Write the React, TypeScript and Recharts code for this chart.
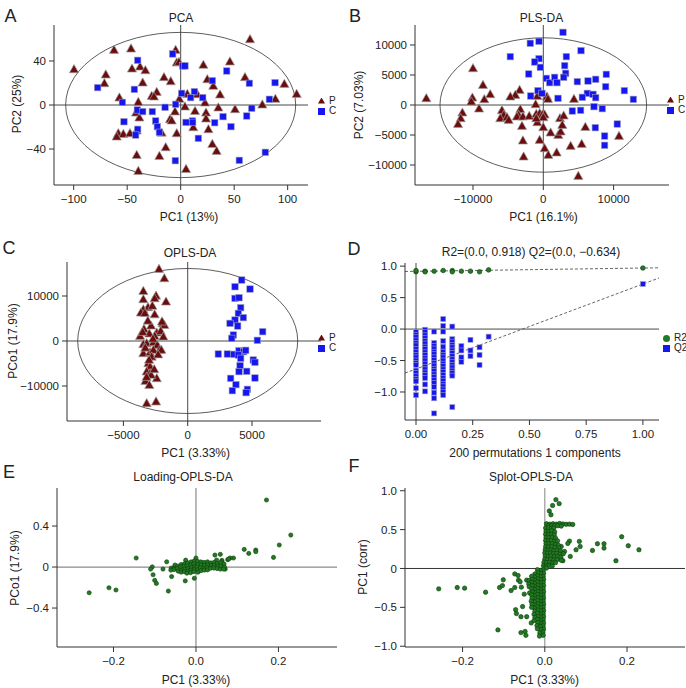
import React from "react"
import { ScatterChart, Scatter, XAxis, YAxis, ReferenceLine, ReferenceArea, Legend } from "recharts"

const FONT = '"Liberation Sans", Arial, Helvetica, sans-serif'
const RED = "#6b0d0d"
const BLUE = "#1616ee"
const GREEN = "#237a23"
const GREEN_EDGE = "#0b3d0b"
const INK = "#222"

// ---- A: PCA ----
const A_P = [[-99.7,32.4],[-62.3,50],[-46.4,51.2],[-4.7,50],[64.8,59.7],[-70,27.6],[-71.3,19.7],[-45.5,33],[-38,34.8],[-33,31.5],[-3.7,38.5],[-1.6,39],[21.2,36.4],[46,39.4],[-35.5,20.3],[-15.6,25.2],[-9.3,21.5],[24.9,23.3],[30.5,17.3],[60.1,25.2],[96.9,19.1],[108.4,10],[-57.3,6.7],[-22.4,11.8],[-27.1,8.2],[-25,7.6],[-1.2,5.5],[6.2,10],[15.6,9.7],[22.7,2.1],[36.8,9.4],[88.5,5.5],[76.3,0.3],[-39.6,2.7],[-41.7,-7],[-38.6,-11.5],[4,-1.5],[-5.3,-6],[13.4,-5.5],[23.7,-7],[35.2,-2.4],[50.8,-3.9],[-10,-13],[-8.4,-14.2],[23.7,-12.4],[11.8,-20.3],[25.9,-22.1],[-58.3,-25.8],[-53.6,-26.4],[-47.4,-25.8],[-59.8,-28.8],[-41.1,-23.3],[-17.8,-25.2],[-3.7,-25.8],[29.6,-35.5],[33.6,-41.8],[-14,-38.5],[-41.1,-45.5],[-19.9,-46.4],[5,-58.2],[-39.6,-60]]
const A_C = [[-7.5,46.4],[-40.2,40.6],[1.9,35.5],[4,35.5],[43,30.9],[29.6,22.1],[-77.6,15.8],[-43.3,14.2],[64.2,19.7],[88.2,20.3],[0.9,10.6],[12.8,12.1],[9.3,6.7],[20.6,6.7],[82.9,5.2],[-54.5,2.4],[-14.6,-2.1],[-4.7,0.6],[66.4,-3],[-40.5,-4.5],[-35.5,-6],[-26.5,-6],[-53,-15.2],[-23.4,-14.5],[5,-15.8],[11,-14.5],[11.2,-15.8],[31.8,-16.1],[39.6,-10.6],[61.7,-10],[-21.8,-19.7],[-19.9,-24.8],[-40.2,-22.1],[-42.1,-27.3],[16.5,-30.3],[47,-19.7],[-5,-50.6],[54.8,-50.3],[79.1,-43]]
const A_ELLIPSE = [107.5, 66]

// ---- B: PLS-DA ----
const B_P = [[-16640,1110],[-10000,6110],[-8580,3330],[-10090,1220],[-10240,560],[-8390,940],[-7550,1780],[-9140,-610],[-11510,-1280],[-11750,-2220],[-12130,-3170],[-3370,2500],[-3980,1670],[-4690,1390],[-5880,-890],[-5640,-1670],[-6120,-2220],[-5170,-2060],[-4930,-2500],[-3270,-720],[-3510,-1670],[-3750,-1940],[-2900,-1940],[-2000,-1830],[-3030,-3500],[-850,1500],[520,1390],[660,1000],[-1090,110],[-1000,-1500],[-520,-1390],[-140,-1610],[190,-1610],[-850,-2890],[0,-2060],[-1000,-2220],[2370,-2220],[2900,-1780],[0,-3720],[1040,-4610],[2130,-5000],[2470,-4440],[2700,-3330],[-520,-5830],[-2900,-5940],[190,-7220],[710,-8330],[1900,-7940],[3890,-6830],[5460,-6500],[5980,-3670],[10770,-5170],[4360,1000],[-2800,-8610],[4980,-11830]]
const B_C = [[2802,12110],[-1850,10280],[-612,10610],[5363,9060],[-4694,8060],[-612,7720],[-1228,7170],[-422,6280],[3275,8060],[3040,6560],[-2080,5170],[3180,5280],[427,4440],[900,3720],[1610,4610],[1940,3720],[2900,4610],[4840,3890],[6360,4000],[7450,4280],[8960,5110],[8870,3050],[11530,2390],[12810,940],[6260,1940],[7070,1780],[7450,1220],[5550,1280],[-755,2390],[-190,1940],[-1800,1500],[2090,1110],[4130,-1000],[5310,-890],[7210,-280],[8390,-610],[7400,-3780],[8720,-5170],[8720,-6720],[10520,-3170]]
const B_ELLIPSE = [14700, 11200]

// ---- C: OPLS-DA ----
const C_P = [[-2232,16000],[-1818,13920],[-3450,11100],[-3450,9260],[-2462,10060],[-2570,9470],[-1686,8730],[-3085,7480],[-3450,7000],[-3640,6290],[-3330,6200],[-2570,5900],[-3400,2660],[-2850,3400],[-1946,3925],[-1818,3550],[-3700,1110],[-2985,1630],[-2406,1850],[-2100,2220],[-2570,1110],[-1893,960],[-3450,-740],[-3190,-520],[-2670,-300],[-2360,-890],[-2200,-2000],[-3450,-2740],[-2930,-2520],[-2050,-1990],[-2670,-1990],[-3060,-4960],[-2930,-5700],[-3190,-6810],[-2930,-7180],[-2406,-8300],[-3290,-8890],[-2850,-7550],[-2985,-9780],[-3190,-13850],[-2460,-13480],[-3100,4500],[-2700,500],[-3300,-1500],[-2800,-3500],[-3000,-4200],[-2600,-6300],[-3200,-8000],[-2750,7800],[-3500,2000],[-2300,-3000],[-2000,4300]]
const C_C = [[4199,13550],[3678,12060],[4844,11550],[3678,9470],[3990,9620],[4120,7400],[3937,6140],[4326,5190],[3678,4660],[3290,3920],[3885,3330],[3550,1330],[3420,590],[5830,2070],[5414,150],[2380,-2890],[3083,-2890],[3575,-2960],[3990,-2150],[4350,-2370],[4510,-2070],[3937,-3110],[4120,-3850],[5100,-4220],[5230,-4740],[4070,-5480],[3990,-6810],[4590,-6740],[3340,-8300],[5230,-8220],[3750,-9700],[3470,-11040],[4640,-10740],[4540,-11480]]
const C_ELLIPSE = [8554, 16110]

// ---- D: permutation test ----
const PERM_X = [0, 0.04, 0.08, 0.12, 0.16, 0.2, 0.24, 0.28, 0.32]
const R2_PERM = [[0.91, 0.93], [0.92, 0.91], [0.92], [0.93], [0.93, 0.91], [0.92], [0.92], [0.91], [0.94]]
const Q2_PERM = [
  [-0.05,-0.09,-0.13,-0.18,-0.22,-0.26,-0.32,-0.36,-0.41,-0.45,-0.5,-0.54,-0.57,-0.66,-0.7,-0.75,-0.79,-0.83,-0.94,-1.05],
  [-0.01,-0.05,-0.1,-0.14,-0.19,-0.23,-0.28,-0.32,-0.37,-0.41,-0.46,-0.5,-0.55,-0.6,-0.64,-0.69,-0.73,-0.78,-0.88,-0.99],
  [-0.04,-0.22,-0.27,-0.31,-0.36,-0.4,-0.45,-0.49,-0.54,-0.58,-0.63,-0.67,-0.72,-0.76,-0.81,-0.86,-0.92,-1.01,-1.1,-1.34],
  [0.16,0.05,-0.04,-0.19,-0.28,-0.36,-0.41,-0.45,-0.5,-0.55,-0.59,-0.64,-0.68,-0.73,-0.78,-0.82,-0.87,-0.91,-0.96,-1.0,-1.05],
  [0.04,-0.16,-0.2,-0.25,-0.29,-0.34,-0.38,-0.43,-0.48,-0.52,-0.57,-0.61,-0.66,-0.7,-0.74,-1.24],
  [-0.27,-0.34,-0.45,-0.52],
  [-0.17,-0.34,-0.43],
  [-0.29,-0.41,-0.57],
  [-0.12],
]
const R2_ORIG = 0.97
const Q2_ORIG = 0.716
const R2_INT = 0.918
const Q2_INT = -0.634

// ---- E: loading plot ----
const E_OUT = [[0.171,0.654],[0.23,0.312],[0.202,0.215],[0.117,0.172],[0.128,0.133],[0.145,0.166],[0.145,0.15],[0.188,0.094],[0.091,0.088],[0.083,0.088],[0.077,0.072],[0.063,0.065],[0.059,0.124],[0.046,0.117],[0.05,0.068],[0.062,0.052],[0.079,0.078],[-0.145,0.088],[-0.259,-0.251],[-0.211,-0.202],[-0.194,-0.224],[-0.067,-0.234],[-0.104,-0.075],[-0.1,-0.13],[-0.096,-0.16],[-0.106,0.001],[-0.11,-0.02],[-0.08,-0.02],[-0.059,-0.093],[-0.071,0.051],[-0.025,0.067],[0.0,0.088],[-0.004,-0.11],[-0.026,-0.135],[0.071,-0.02]]
const E_CORE = [[-0.06,-0.01],[-0.061,-0.03],[-0.052,0.0],[-0.053,-0.025],[-0.051,0.02],[-0.044,0.01],[-0.045,-0.015],[-0.043,-0.04],[-0.036,0.025],[-0.037,0.0],[-0.035,-0.03],[-0.036,-0.05],[-0.028,0.03],[-0.029,0.005],[-0.027,-0.02],[-0.028,-0.045],[-0.02,0.04],[-0.021,0.012],[-0.019,-0.015],[-0.02,-0.04],[-0.022,-0.06],[-0.012,0.05],[-0.013,0.02],[-0.011,-0.005],[-0.012,-0.03],[-0.013,-0.055],[-0.004,0.06],[-0.005,0.03],[-0.003,0.005],[-0.004,-0.02],[-0.005,-0.045],[0.004,0.055],[0.005,0.025],[0.003,0.0],[0.004,-0.025],[0.005,-0.05],[0.012,0.05],[0.013,0.02],[0.011,-0.008],[0.012,-0.035],[0.02,0.045],[0.021,0.018],[0.019,-0.01],[0.02,-0.03],[0.028,0.05],[0.029,0.022],[0.027,-0.005],[0.028,-0.028],[0.036,0.04],[0.037,0.015],[0.035,-0.012],[0.044,0.045],[0.045,0.018],[0.043,-0.01],[0.052,0.035],[0.053,0.01],[0.051,-0.015],[0.06,0.04],[0.061,0.012],[0.059,-0.02],[0.068,0.03],[0.069,0.0],[0.067,-0.02]]

// ---- F: S-plot ----
const F_OUT = [[0.027,0.885],[0.035,0.834],[0.019,0.81],[0.011,0.74],[0.015,0.69],[0.187,0.408],[0.203,0.292],[0.229,0.24],[0.173,0.099],[0.128,0.318],[0.144,0.318],[0.144,0.262],[0.116,0.232],[0.084,0.348],[0.086,0.283],[0.076,0.24],[0.062,0.155],[0.06,0.352],[0.056,0.322],[0.04,0.283],[0.048,0.219],[0.032,0.133],[0.044,0.1],[-0.258,-0.262],[-0.213,-0.245],[-0.195,-0.253],[-0.144,-0.305],[-0.101,-0.146],[-0.11,-0.245],[-0.103,-0.22],[-0.082,-0.284],[-0.073,-0.07],[-0.073,-0.245],[-0.071,-0.53],[-0.069,-0.58],[-0.114,-0.79],[-0.058,-0.62],[-0.058,-0.825],[-0.046,-0.86],[-0.054,-0.49],[-0.057,-0.24],[-0.064,-0.15],[-0.05,-0.33],[-0.044,-0.15],[-0.065,-0.09],[-0.06,-0.17],[-0.048,-0.81],[-0.044,-0.62],[-0.033,-0.7]]
const F_UPPER = [[0.004,0.575],[0.012,0.57],[0.02,0.575],[0.028,0.57],[0.036,0.578],[0.044,0.572],[0.052,0.568],[0.06,0.57],[0.068,0.566],[0.008,0.55],[0.016,0.548],[0.024,0.552],[0.032,0.55],[0.04,0.545],[0.002,0.52],[0.009,0.525],[0.016,0.515],[0.022,0.52],[0.003,0.48],[0.01,0.475],[0.017,0.485],[0.024,0.47],[0.002,0.44],[0.009,0.435],[0.016,0.44],[0.023,0.43],[0.003,0.4],[0.01,0.395],[0.018,0.4],[0.026,0.39],[0.002,0.36],[0.009,0.355],[0.016,0.36],[0.024,0.35],[0.031,0.355],[0.003,0.32],[0.01,0.315],[0.018,0.32],[0.026,0.31],[0.033,0.3],[0.002,0.28],[0.009,0.275],[0.017,0.28],[0.025,0.27],[0.034,0.265],[0.001,0.24],[0.008,0.235],[0.015,0.24],[0.022,0.23],[0.03,0.235],[0.038,0.225],[0.0,0.2],[0.007,0.195],[0.014,0.2],[0.021,0.19],[0.029,0.195],[0.037,0.185],[0.045,0.19],[0.001,0.16],[0.008,0.155],[0.015,0.16],[0.023,0.15],[0.031,0.155],[0.039,0.145],[0.0,0.12],[0.007,0.115],[0.014,0.12],[0.022,0.11],[0.03,0.115],[0.04,0.105],[-0.002,0.08],[0.005,0.075],[0.012,0.08],[0.019,0.07],[0.026,0.075],[-0.003,0.04],[0.004,0.035],[0.011,0.04],[0.018,0.03],[-0.002,0.01],[0.004,0.005]]
const F_LOWER = [[-0.004,-0.02],[-0.011,-0.025],[-0.018,-0.015],[-0.003,-0.06],[-0.01,-0.065],[-0.017,-0.055],[-0.024,-0.07],[-0.004,-0.1],[-0.011,-0.105],[-0.018,-0.095],[-0.025,-0.11],[-0.032,-0.1],[-0.003,-0.14],[-0.01,-0.145],[-0.017,-0.135],[-0.024,-0.15],[-0.031,-0.14],[-0.038,-0.155],[-0.004,-0.18],[-0.011,-0.185],[-0.018,-0.175],[-0.025,-0.19],[-0.032,-0.18],[-0.039,-0.2],[-0.003,-0.22],[-0.01,-0.225],[-0.017,-0.215],[-0.024,-0.23],[-0.031,-0.22],[-0.038,-0.235],[-0.004,-0.26],[-0.011,-0.265],[-0.018,-0.255],[-0.025,-0.27],[-0.032,-0.26],[-0.003,-0.3],[-0.01,-0.305],[-0.017,-0.295],[-0.024,-0.31],[-0.031,-0.3],[-0.037,-0.315],[-0.004,-0.34],[-0.011,-0.345],[-0.018,-0.335],[-0.025,-0.35],[-0.032,-0.34],[-0.003,-0.38],[-0.01,-0.385],[-0.017,-0.375],[-0.024,-0.39],[-0.031,-0.38],[-0.004,-0.42],[-0.011,-0.425],[-0.018,-0.415],[-0.025,-0.43],[-0.033,-0.42],[-0.003,-0.46],[-0.01,-0.465],[-0.017,-0.455],[-0.024,-0.47],[-0.031,-0.46],[-0.004,-0.5],[-0.011,-0.505],[-0.018,-0.495],[-0.025,-0.51],[-0.032,-0.5],[-0.003,-0.54],[-0.01,-0.545],[-0.017,-0.535],[-0.024,-0.55],[-0.004,-0.58],[-0.011,-0.585],[-0.018,-0.575],[-0.026,-0.59],[-0.003,-0.62],[-0.01,-0.625],[-0.017,-0.615],[-0.024,-0.63],[-0.004,-0.66],[-0.011,-0.665],[-0.018,-0.655],[-0.026,-0.67],[-0.003,-0.7],[-0.01,-0.705],[-0.017,-0.695],[-0.004,-0.74],[-0.011,-0.745],[-0.019,-0.735],[-0.003,-0.78],[-0.01,-0.785],[-0.018,-0.775],[-0.005,-0.82],[-0.012,-0.83],[-0.004,-0.86],[-0.013,-0.87]]

const pts = (arr: number[][]) => arr.map(([x, y]) => ({ x, y }))

const r2Data = [...PERM_X.flatMap((x, i) => R2_PERM[i].map((y) => ({ x, y }))), { x: 1, y: R2_ORIG }]
const q2Data = [...PERM_X.flatMap((x, i) => Q2_PERM[i].map((y) => ({ x, y }))), { x: 1, y: Q2_ORIG }]

const neg = (s: string) => s.replace("-", "\u2212")
const fmtInt = (v: number) => neg(String(v))
const fmt1 = (v: number) => neg(v.toFixed(1))
const fmt2 = (v: number) => neg(v.toFixed(2))
const fmt1z = (v: number) => (v === 0 ? "0" : fmt1(v))

// keep legend entries in the order the series are declared
const LEGEND_ORDER = ["P", "C", "R2", "Q2"]

function Tri(props: any) {
  const { cx, cy } = props
  if (cx == null || cy == null) return <g />
  return (
    <polygon
      points={`${cx},${cy - 4.8} ${cx - 4.6},${cy + 3.4} ${cx + 4.6},${cy + 3.4}`}
      fill={RED}
      stroke="#a0a0a0"
      strokeWidth={0.7}
    />
  )
}

const square = (s: number) => (props: any) => {
  const { cx, cy } = props
  if (cx == null || cy == null) return <g />
  return <rect x={cx - s / 2} y={cy - s / 2} width={s} height={s} fill={BLUE} stroke="#a0a0c0" strokeWidth={0.6} />
}

const dot = (r: number) => (props: any) => {
  const { cx, cy } = props
  if (cx == null || cy == null) return <g />
  return <circle cx={cx} cy={cy} r={r} fill={GREEN} stroke={GREEN_EDGE} strokeWidth={0.6} />
}

const ellipseShape = (props: any) => {
  const { x, y, width, height } = props
  return <ellipse cx={x + width / 2} cy={y + height / 2} rx={width / 2} ry={height / 2} fill="none" stroke="#333" strokeWidth={0.8} />
}

function Txt({ x, y, size = 12, rotate = false, children }: any) {
  return (
    <div
      style={{
        position: "absolute",
        left: x,
        top: y,
        transform: `translate(-50%, -50%)${rotate ? " rotate(-90deg)" : ""}`,
        fontSize: size,
        lineHeight: 1,
        whiteSpace: "nowrap",
        color: INK,
      }}
    >
      {children}
    </div>
  )
}

const ML = 50
const MT = 12
const XH = 32

function Panel({ box, xDomain, yDomain, xTicks, yTicks, xFmt, yFmt, mr = 40, legendAt, children }: any) {
  const [x0, y0, x1, y1] = box
  const left = x0 - ML
  const top = y0 - MT
  const tickStyle = { fontSize: 11.5, fill: INK }
  return (
    <div style={{ position: "absolute", left, top }}>
      <ScatterChart width={x1 - x0 + ML + mr} height={y1 - y0 + MT + XH} margin={{ top: MT, right: mr, left: 0, bottom: 0 }}>
        <XAxis
          type="number"
          dataKey="x"
          domain={xDomain}
          ticks={xTicks}
          interval={0}
          allowDataOverflow
          tickFormatter={xFmt}
          height={XH}
          tickSize={5}
          tickMargin={5}
          stroke="#333"
          tick={tickStyle}
        />
        <YAxis
          type="number"
          dataKey="y"
          domain={yDomain}
          ticks={yTicks}
          interval={0}
          allowDataOverflow
          tickFormatter={yFmt}
          width={ML}
          tickSize={5}
          tickMargin={3}
          stroke="#333"
          tick={tickStyle}
        />
        {children}
        {legendAt && (
          <Legend
            layout="vertical"
            align="center"
            verticalAlign="middle"
            iconSize={7}
            itemSorter={(item: any) => LEGEND_ORDER.indexOf(item.value)}
            wrapperStyle={{ left: legendAt[0] - left, top: legendAt[1] - top, width: 50, fontSize: 10, lineHeight: "10px", whiteSpace: "nowrap" }}
            formatter={(v: any) => <span style={{ color: INK }}>{v}</span>}
          />
        )}
      </ScatterChart>
    </div>
  )
}

export default function App() {
  return (
    <div style={{ position: "absolute", left: 0, top: 0, width: 686, height: 688, overflow: "hidden", background: "#fff", fontFamily: FONT }}>
      {/* A */}
      <Panel box={[54, 25, 308, 185]} xDomain={[-118.4, 119]} yDomain={[-72.7, 72.7]} xTicks={[-100, -50, 0, 50, 100]} yTicks={[-40, 0, 40]} xFmt={fmtInt} yFmt={fmtInt} legendAt={[318, 96]}>
        <ReferenceArea x1={-A_ELLIPSE[0]} x2={A_ELLIPSE[0]} y1={-A_ELLIPSE[1]} y2={A_ELLIPSE[1]} shape={ellipseShape} />
        <ReferenceLine x={0} stroke="#333" strokeWidth={0.9} />
        <ReferenceLine y={0} stroke="#333" strokeWidth={0.9} />
        <Scatter name="P" data={pts(A_P)} fill={RED} legendType="triangle" shape={Tri} isAnimationActive={false} />
        <Scatter name="C" data={pts(A_C)} fill={BLUE} legendType="square" shape={square(6.5)} isAnimationActive={false} />
      </Panel>
      {/* B */}
      <Panel box={[415, 25, 669, 185]} xDomain={[-18250, 17880]} yDomain={[-13333, 13333]} xTicks={[-10000, 0, 10000]} yTicks={[-10000, -5000, 0, 5000, 10000]} xFmt={fmtInt} yFmt={fmtInt} mr={16} legendAt={[667, 95]}>
        <ReferenceArea x1={-B_ELLIPSE[0]} x2={B_ELLIPSE[0]} y1={-B_ELLIPSE[1]} y2={B_ELLIPSE[1]} shape={ellipseShape} />
        <ReferenceLine x={0} stroke="#333" strokeWidth={0.9} />
        <ReferenceLine y={0} stroke="#333" strokeWidth={0.9} />
        <Scatter name="P" data={pts(B_P)} fill={RED} legendType="triangle" shape={Tri} isAnimationActive={false} />
        <Scatter name="C" data={pts(B_C)} fill={BLUE} legendType="square" shape={square(6.5)} isAnimationActive={false} />
      </Panel>
      {/* C */}
      <Panel box={[67, 262, 321, 421]} xDomain={[-9386, 10365]} yDomain={[-17778, 17556]} xTicks={[-5000, 0, 5000]} yTicks={[-10000, 0, 10000]} xFmt={fmtInt} yFmt={fmtInt} legendAt={[318, 333]}>
        <ReferenceArea x1={-C_ELLIPSE[0]} x2={C_ELLIPSE[0]} y1={-C_ELLIPSE[1]} y2={C_ELLIPSE[1]} shape={ellipseShape} />
        <ReferenceLine x={0} stroke="#333" strokeWidth={0.9} />
        <ReferenceLine y={0} stroke="#333" strokeWidth={0.9} />
        <Scatter name="P" data={pts(C_P)} fill={RED} legendType="triangle" shape={Tri} isAnimationActive={false} />
        <Scatter name="C" data={pts(C_C)} fill={BLUE} legendType="square" shape={square(6.5)} isAnimationActive={false} />
      </Panel>
      {/* D */}
      <Panel box={[405, 263, 659, 420]} xDomain={[-0.0485, 1.071]} yDomain={[-1.445, 1.05]} xTicks={[0, 0.25, 0.5, 0.75, 1]} yTicks={[-1, -0.5, 0, 0.5, 1]} xFmt={fmt2} yFmt={fmt1} mr={26} legendAt={[663, 333]}>
        <ReferenceLine x={0} stroke="#333" strokeWidth={0.9} />
        <ReferenceLine y={0} stroke="#333" strokeWidth={0.9} />
        <ReferenceLine
          segment={[{ x: -0.0485, y: R2_INT - 0.0485 * (R2_ORIG - R2_INT) }, { x: 1.071, y: R2_INT + 1.071 * (R2_ORIG - R2_INT) }]}
          stroke="#555"
          strokeDasharray="3 2"
          strokeWidth={0.9}
          ifOverflow="visible"
        />
        <ReferenceLine
          segment={[{ x: -0.0485, y: Q2_INT - 0.0485 * (Q2_ORIG - Q2_INT) }, { x: 1.071, y: Q2_INT + 1.071 * (Q2_ORIG - Q2_INT) }]}
          stroke="#555"
          strokeDasharray="3 2"
          strokeWidth={0.9}
          ifOverflow="visible"
        />
        <Scatter name="R2" data={r2Data} fill={GREEN} legendType="circle" shape={dot(2.3)} isAnimationActive={false} />
        <Scatter name="Q2" data={q2Data} fill={BLUE} legendType="square" shape={square(5)} isAnimationActive={false} />
      </Panel>
      {/* E */}
      <Panel box={[57, 488, 337, 647]} xDomain={[-0.337, 0.342]} yDomain={[-0.78, 0.771]} xTicks={[-0.2, 0, 0.2]} yTicks={[-0.4, 0, 0.4]} xFmt={fmt1} yFmt={fmt1z} mr={6}>
        <ReferenceLine x={0} stroke="#8a8a8a" strokeWidth={1.2} />
        <ReferenceLine y={0} stroke="#8a8a8a" strokeWidth={1.2} />
        <Scatter name="loading" data={[...pts(E_OUT), ...pts(E_CORE)]} fill={GREEN} shape={dot(2.1)} isAnimationActive={false} />
      </Panel>
      {/* F */}
      <Panel box={[405, 488, 685, 647]} xDomain={[-0.34, 0.341]} yDomain={[-1.01, 1.035]} xTicks={[-0.2, 0, 0.2]} yTicks={[-1, -0.5, 0, 0.5, 1]} xFmt={fmt1} yFmt={fmt1z} mr={1}>
        <ReferenceLine x={0} stroke="#999" strokeWidth={1.2} />
        <ReferenceLine y={0} stroke="#333" strokeWidth={1} />
        <Scatter name="splot" data={[...pts(F_OUT), ...pts(F_UPPER), ...pts(F_LOWER)]} fill={GREEN} shape={dot(2.2)} isAnimationActive={false} />
      </Panel>

      {/* panel letters */}
      <Txt x={10.5} y={16} size={18}>A</Txt>
      <Txt x={355} y={16} size={18}>B</Txt>
      <Txt x={9} y={248} size={18}>C</Txt>
      <Txt x={354} y={249} size={18}>D</Txt>
      <Txt x={9} y={472} size={18}>E</Txt>
      <Txt x={354} y={466} size={18}>F</Txt>

      {/* titles */}
      <Txt x={181} y={18} size={12}>PCA</Txt>
      <Txt x={541.5} y={18} size={12}>PLS-DA</Txt>
      <Txt x={190} y={253} size={12}>OPLS-DA</Txt>
      <Txt x={531} y={252} size={12}>R2=(0.0, 0.918) Q2=(0.0, −0.634)</Txt>
      <Txt x={183} y={477} size={12}>Loading-OPLS-DA</Txt>
      <Txt x={531} y={477} size={12}>Splot-OPLS-DA</Txt>

      {/* axis labels */}
      <Txt x={189} y={217} size={12}>PC1 (13%)</Txt>
      <Txt x={17} y={104} size={12} rotate>PC2 (25%)</Txt>
      <Txt x={543.5} y={217} size={12}>PC1 (16.1%)</Txt>
      <Txt x={359} y={104.5} size={12} rotate>PC2 (7.03%)</Txt>
      <Txt x={195.7} y={453} size={12}>PC1 (3.33%)</Txt>
      <Txt x={13} y={341} size={12} rotate>PCo1 (17.9%)</Txt>
      <Txt x={535} y={453} size={12}>200 permutations 1 components</Txt>
      <Txt x={196} y={680} size={12}>PC1 (3.33%)</Txt>
      <Txt x={15} y={567.5} size={12} rotate>PCo1 (17.9%)</Txt>
      <Txt x={544.7} y={680} size={12}>PC1 (3.33%)</Txt>
      <Txt x={363} y={567} size={12} rotate>PC1 (corr)</Txt>
    </div>
  )
}
